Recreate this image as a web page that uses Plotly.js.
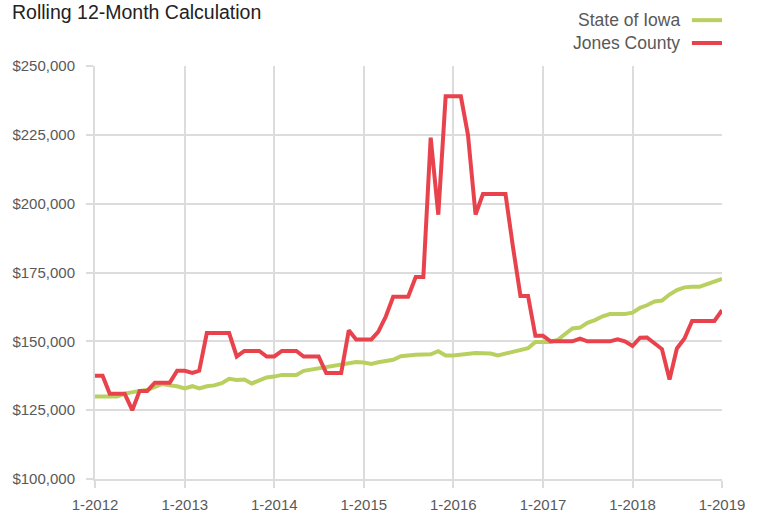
<!DOCTYPE html>
<html>
<head>
<meta charset="utf-8">
<script src="https://cdn.plot.ly/plotly-3.0.1.min.js"></script>
<style>
  html, body { margin: 0; padding: 0; background: #fff; }
  #chart { width: 759px; height: 515px; }
</style>
</head>
<body>
<div id="chart"></div>
<script>
// ---- Data ----
const chartTitle = "Rolling 12-Month Calculation";
const seriesNames = ["State of Iowa", "Jones County"];
const startYear = 2012;
const endYear = 2019;

// Months from Jan 2012 to Jan 2019
const months = [];
for (let y = startYear; y < endYear; y++) {
  for (let m = 1; m <= 12; m++) months.push(y + "-" + String(m).padStart(2, "0") + "-01");
}
months.push(endYear + "-01-01");

const stateOfIowa = [
  130000, 130000, 130000, 130000, 131000, 131600, 132000, 132300, 133500, 134500, 134000, 133700,
  132900, 133700, 132900, 133700, 134000, 134800, 136400, 136000, 136100, 134700, 135800, 136900,
  137200, 137800, 137800, 137800, 139300, 139800, 140000, 140500, 141000, 141600, 142000, 142500,
  142300, 141800, 142400, 143000, 143300, 144600, 145000, 145100, 145200, 145300, 146400, 144900,
  144900, 145300, 145600, 145800, 145700, 145600, 144900, 145600, 146400, 147100, 147500, 149800,
  149800, 149800, 150500, 152500, 154700, 155000, 156700, 157700, 159100, 159900, 159900, 159900,
  160400, 162200, 163100, 164500, 164800, 167000, 168600, 169600, 169800, 169800, 170800, 171800,
  172700
];

const jonesCounty = [
  137500, 137500, 131000, 131000, 131000, 125000, 132000, 132000, 135000, 135000, 135000, 139300,
  139300, 138500, 139300, 153000, 153000, 153000, 153000, 144500, 146500, 146500, 146500, 144500,
  144500, 146500, 146500, 146500, 144500, 144500, 144500, 138500, 138500, 138500, 154000, 150700,
  150700, 150700, 153400, 159000, 166200, 166200, 166200, 173400, 173400, 224000, 196000, 239000,
  239000, 239000, 225000, 196000, 203500, 203500, 203500, 203500, 184000, 166500, 166500, 152000,
  152000, 150000, 150000, 150000, 150000, 151000, 150000, 150000, 150000, 150000, 150700, 150000,
  148300, 151300, 151400, 149200, 147200, 136100, 147400, 151000, 157400, 157400, 157400, 157400,
  161300
];

const yTickVals = [100000, 125000, 150000, 175000, 200000, 225000, 250000];

// ---- Styles ----
const greenColor = "#b8d05f";
const redColor = "#e8434c";
const gridColor = "#dcdcdc";
const textGray = "#595959";
const fontFamily = "'Liberation Sans', Arial, sans-serif";

const traces = [
  { x: months, y: stateOfIowa, name: seriesNames[0], type: "scatter", mode: "lines",
    line: { color: greenColor, width: 4 }, showlegend: false },
  { x: months, y: jonesCounty, name: seriesNames[1], type: "scatter", mode: "lines",
    line: { color: redColor, width: 4 }, showlegend: false }
];

// Manual legend (text left of line sample)
const legendRows = [
  { name: seriesNames[0], color: greenColor, y: 1.111 },
  { name: seriesNames[1], color: redColor, y: 1.0557 }
];
const annotations = legendRows.map(r => ({
  xref: "paper", yref: "paper", x: 0.936, y: r.y, xanchor: "right", yanchor: "middle",
  text: r.name, showarrow: false, font: { family: fontFamily, size: 17.5, color: textGray }
}));
const shapes = legendRows.map(r => ({
  type: "line", xref: "paper", yref: "paper", x0: 0.952, x1: 1.0, y0: r.y, y1: r.y,
  line: { color: r.color, width: 4 }
}));

const layout = {
  width: 759, height: 515,
  margin: { l: 95, r: 37, t: 66, b: 36, pad: 0 },
  paper_bgcolor: "#ffffff", plot_bgcolor: "#ffffff",
  font: { family: fontFamily, color: textGray },
  title: { text: chartTitle, x: 12 / 759, xanchor: "left", xref: "container",
           y: 1 - 12 / 515, yanchor: "middle", yref: "container",
           font: { family: fontFamily, size: 19.5, color: "#222222" } },
  xaxis: {
    type: "date",
    range: [startYear + "-01-01", endYear + "-01-01"],
    dtick: "M12", tick0: startYear + "-01-01",
    tickformat: "%-m-%Y",
    showgrid: true, gridcolor: gridColor, gridwidth: 2,
    showline: true, linecolor: gridColor, linewidth: 2,
    ticks: "outside", ticklen: 7, tickcolor: gridColor, tickwidth: 2,
    ticklabelstandoff: 4,
    tickfont: { family: fontFamily, size: 15, color: textGray },
    zeroline: false, fixedrange: true
  },
  yaxis: {
    range: [100000, 250000],
    tickvals: yTickVals,
    tickformat: "$,.0f",
    showgrid: true, gridcolor: gridColor, gridwidth: 2,
    showline: true, linecolor: gridColor, linewidth: 2,
    ticks: "outside", ticklen: 7, tickcolor: gridColor, tickwidth: 2,
    ticklabelstandoff: 8,
    tickfont: { family: fontFamily, size: 15, color: textGray },
    zeroline: false, fixedrange: true
  },
  annotations: annotations,
  shapes: shapes,
  showlegend: false
};

Plotly.newPlot("chart", traces, layout, { displayModeBar: false, staticPlot: true });
</script>
</body>
</html>
